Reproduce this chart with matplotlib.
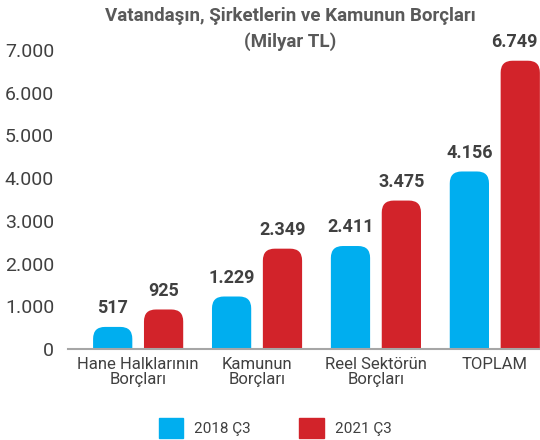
import numpy as np
import matplotlib.pyplot as plt
from matplotlib.patches import FancyBboxPatch, Patch

plt.rcParams['font.family'] = ['Roboto', 'DejaVu Sans']

# Data
categories = ["Hane Halklarının\nBorçları", "Kamunun\nBorçları", "Reel Sektörün\nBorçları", "TOPLAM"]
values_2018 = [517, 1229, 2411, 4156]
values_2021 = [925, 2349, 3475, 6749]
series_names = ["2018 Ç3", "2021 Ç3"]
yticks = [0, 1000, 2000, 3000, 4000, 5000, 6000, 7000]
ytick_labels = ["0", "1.000", "2.000", "3.000", "4.000", "5.000", "6.000", "7.000"]

blue = "#00AEEF"
red = "#D2232A"
text_col = "#404040"

fig = plt.figure(figsize=(5.4, 4.4), dpi=100)
ax = fig.add_axes([68 / 540, (440 - 349) / 440, 1 - 68 / 540, (349 - 50) / 440])

x = np.arange(len(categories))
w = 0.33
off = 0.214
ax.set_xlim(-0.59, 3.38)
ax.set_ylim(0, 7000)

bars1 = ax.bar(x - off, values_2018, w, color=blue)
bars2 = ax.bar(x + off, values_2021, w, color=red)

# swap the plain bars for ones with rounded tops
fig.canvas.draw()
bb = ax.get_window_extent()
xu = (ax.get_xlim()[1] - ax.get_xlim()[0]) / bb.width
yu = (ax.get_ylim()[1] - ax.get_ylim()[0]) / bb.height
r = 0.1
for bars in (bars1, bars2):
    for b in bars:
        b.set_visible(False)
        ext = r * yu / xu
        p = FancyBboxPatch((b.get_x(), -ext), b.get_width(), b.get_height() + ext,
                           boxstyle="round,pad=0,rounding_size=%f" % r,
                           mutation_aspect=yu / xu, fc=b.get_facecolor(), ec="none",
                           clip_on=True)
        ax.add_patch(p)

for bars, vals in ((bars1, values_2018), (bars2, values_2021)):
    for b, v in zip(bars, vals):
        t = ax.annotate(f"{v:,}".replace(",", "."), (b.get_x() + b.get_width() / 2, v),
                        xytext=(0, 7), textcoords="offset points", ha="center", va="bottom",
                        fontsize=13, fontweight="bold", color=text_col, annotation_clip=False)
        # keep the label inside the figure
        fig.canvas.draw()
        ext_t = t.get_window_extent()
        if ext_t.x1 > fig.bbox.width - 2:
            shift = (ext_t.x1 - fig.bbox.width + 3) * 72 / fig.dpi
            t.xyann = (-shift, 7)

ax.set_yticks(yticks)
ax.set_yticklabels(ytick_labels)
ax.set_xticks(x)
ax.set_xticklabels(categories, linespacing=0.95)
ax.tick_params(axis="y", length=0, pad=10, labelsize=14, labelcolor=text_col)
ax.tick_params(axis="x", length=0, pad=6, labelsize=12, labelcolor=text_col)
for s in ("left", "right", "top"):
    ax.spines[s].set_visible(False)
ax.spines["bottom"].set_color("#A6A6A6")
ax.spines["bottom"].set_linewidth(1.5)
ax.spines["bottom"].set_zorder(5)

fig.text(290 / 540, 1 - 16 / 440, "Vatandaşın, Şirketlerin ve Kamunun Borçları",
         ha="center", va="center", fontsize=13.5, fontweight="bold", color="#595959")
fig.text(290 / 540, 1 - 42 / 440, "(Milyar TL)",
         ha="center", va="center", fontsize=13.5, fontweight="bold", color="#595959")

handles = [Patch(color=blue), Patch(color=red)]
fig.legend(handles=handles, labels=series_names, loc="center",
           bbox_to_anchor=(275 / 540, 1 - 428 / 440), ncol=2, frameon=False,
           fontsize=11, handlelength=1.6, handleheight=1.6, columnspacing=3.2,
           handletextpad=0.7, labelcolor=text_col)

fig.savefig("out.png", dpi=100)
